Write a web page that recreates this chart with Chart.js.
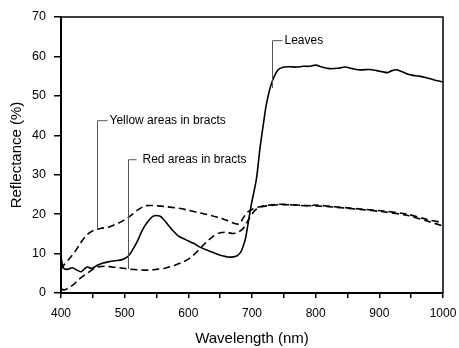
<!DOCTYPE html>
<html>
<head>
<meta charset="utf-8">
<script src="https://cdn.jsdelivr.net/npm/chart.js@4"></script>
<style>
  html, body { margin: 0; padding: 0; background: #fff; }
  #chart { display: block; }
</style>
</head>
<body>
<canvas id="chart" width="459" height="348"></canvas>
<script>
// spectral reflectance
const leavesNm = [400, 404, 410, 418, 425, 432, 438, 442, 448, 458, 466, 474, 485, 495, 505, 512, 521, 528, 535, 545, 555, 562, 568, 576, 584, 595, 608, 620, 629, 640, 650, 665, 676, 682, 686, 690, 694, 699, 707, 712, 718, 723, 731, 741, 750, 760, 770, 780, 790, 800, 810, 822, 835, 846, 858, 870, 885, 896, 905, 913, 920, 927, 935, 945, 953, 962, 974, 985, 1000];
const leavesPct = [9.0, 6.3, 6.0, 6.4, 5.8, 5.4, 6.3, 6.6, 6.2, 7.1, 7.6, 7.9, 8.2, 8.4, 9.2, 10.8, 13.5, 16.0, 17.8, 19.5, 19.5, 18.5, 17.3, 15.8, 14.5, 13.6, 12.6, 11.5, 10.9, 10.2, 9.6, 9.1, 9.4, 10.3, 11.8, 14.0, 17.8, 22.5, 29.0, 36.0, 43.0, 48.2, 53.3, 56.6, 57.3, 57.4, 57.3, 57.5, 57.5, 57.8, 57.3, 56.9, 57.0, 57.3, 56.9, 56.6, 56.7, 56.4, 56.1, 55.9, 56.4, 56.6, 56.2, 55.5, 55.2, 55.0, 54.6, 54.1, 53.5];

const yellowNm = [400, 404, 412, 422, 430, 438, 445, 453, 463, 474, 484, 495, 505, 511, 520, 532, 542, 552, 565, 584, 600, 618, 635, 650, 662, 676, 681, 686, 693, 700, 712, 723, 744, 760, 775, 791, 799, 827, 850, 870, 906, 943, 974, 1000];
const yellowPct = [6.0, 7.0, 8.5, 10.5, 12.5, 14.3, 15.3, 16.0, 16.4, 16.7, 17.3, 18.1, 19.1, 19.8, 21.0, 22.1, 22.2, 22.1, 21.9, 21.5, 21.0, 20.3, 19.7, 19.0, 18.3, 17.5, 17.6, 19.0, 20.5, 21.2, 21.9, 22.2, 22.5, 22.4, 22.2, 22.1, 22.3, 21.9, 21.6, 21.3, 20.8, 20.0, 18.7, 17.8];

const redNm = [400, 405, 411, 420, 427, 435, 442, 450, 458, 470, 480, 492, 505, 520, 537, 550, 563, 578, 592, 600, 608, 618, 629, 640, 650, 660, 670, 678, 684, 689, 694, 700, 705, 714, 723, 744, 770, 799, 827, 870, 906, 943, 974, 1000];
const redPct = [1.0, 0.8, 1.2, 2.2, 3.3, 4.3, 5.1, 6.0, 6.6, 6.8, 6.6, 6.4, 6.1, 5.9, 5.8, 6.0, 6.3, 7.0, 7.9, 8.6, 9.6, 11.2, 13.0, 14.5, 15.3, 15.4, 15.1, 15.5, 16.0, 17.0, 18.5, 20.0, 21.0, 21.8, 22.1, 22.4, 22.3, 22.1, 21.8, 21.2, 20.6, 19.7, 18.3, 17.0];

// callout labels (anchored in data units: wavelength, top %, bottom %)
const callouts = [
  { text: 'Leaves', nm: 731, top: 64.0, bottom: 52.0, arm: 10, gap: 2 },
  { text: 'Yellow areas in bracts', nm: 456, top: 43.7, bottom: 16.5, arm: 10, gap: 2 },
  { text: 'Red areas in bracts', nm: 506, top: 33.8, bottom: 6.1, arm: 8, gap: 6 },
];

const FONT = '"Liberation Sans", Arial, sans-serif';

function toPoints(xs, ys) {
  return xs.map((x, i) => ({ x, y: ys[i] }));
}

const frameAndCallouts = {
  id: 'frameAndCallouts',
  afterDatasetsDraw(chart) {
    const { ctx, chartArea, scales } = chart;
    ctx.save();
    // top and right frame
    ctx.strokeStyle = '#000';
    ctx.lineWidth = 1.5;
    ctx.beginPath();
    ctx.moveTo(chartArea.left, chartArea.top);
    ctx.lineTo(chartArea.right, chartArea.top);
    ctx.lineTo(chartArea.right, chartArea.bottom);
    ctx.stroke();

    ctx.font = '12px ' + FONT;
    ctx.textBaseline = 'middle';
    ctx.textAlign = 'left';
    callouts.forEach((c) => {
      const x = Math.round(scales.x.getPixelForValue(c.nm)) + 0.5;
      const y0 = scales.y.getPixelForValue(c.top);
      const y1 = scales.y.getPixelForValue(c.bottom);
      ctx.strokeStyle = '#555';
      ctx.lineWidth = 1;
      ctx.beginPath();
      ctx.moveTo(x + c.arm, y0);
      ctx.lineTo(x, y0);
      ctx.lineTo(x, y1);
      ctx.stroke();
      ctx.fillStyle = '#000';
      ctx.fillText(c.text, x + c.arm + c.gap, y0);
    });
    ctx.restore();
  },
};

const lineStyle = {
  borderColor: '#000',
  borderWidth: 1.6,
  pointRadius: 0,
  tension: 0.3,
  fill: false,
};

new Chart(document.getElementById('chart'), {
  type: 'line',
  data: {
    datasets: [
      { ...lineStyle, label: 'Leaves', data: toPoints(leavesNm, leavesPct) },
      { ...lineStyle, label: 'Yellow areas in bracts', data: toPoints(yellowNm, yellowPct), borderDash: [7, 4] },
      { ...lineStyle, label: 'Red areas in bracts', data: toPoints(redNm, redPct), borderDash: [7, 4] },
    ],
  },
  options: {
    responsive: false,
    animation: false,
    devicePixelRatio: 1,
    layout: { padding: { top: 17, right: 16, left: 0, bottom: 0 } },
    plugins: { legend: { display: false }, tooltip: { enabled: false } },
    scales: {
      x: {
        type: 'linear',
        min: 400,
        max: 1000,
        afterFit: (s) => {
          s.height = 55;
          s.paddingLeft = 0;
          s.paddingRight = 0;
        },
        ticks: {
          stepSize: 50,
          autoSkip: false,
          maxRotation: 0,
          padding: 8,
          color: '#000',
          font: { family: FONT, size: 12 },
          callback: (v) => (v % 100 === 0 ? String(v) : ''),
        },
        grid: { drawOnChartArea: false, tickLength: 5, color: '#000', lineWidth: 1.5 },
        border: { color: '#000', width: 2 },
        title: {
          display: true,
          text: 'Wavelength (nm)',
          color: '#000',
          font: { family: FONT, size: 15 },
          padding: { top: 0, bottom: 0 },
        },
      },
      y: {
        min: 0,
        max: 70,
        afterFit: (s) => { s.width = 61; },
        ticks: {
          stepSize: 10,
          padding: 8,
          color: '#000',
          font: { family: FONT, size: 12.5 },
        },
        grid: { drawOnChartArea: false, tickLength: 7, color: '#000', lineWidth: 1.5 },
        border: { color: '#000', width: 2 },
        title: {
          display: true,
          text: 'Reflectance (%)',
          color: '#000',
          font: { family: FONT, size: 15 },
          padding: { top: 8, bottom: 0 },
        },
      },
    },
  },
  plugins: [frameAndCallouts],
});
</script>
</body>
</html>
